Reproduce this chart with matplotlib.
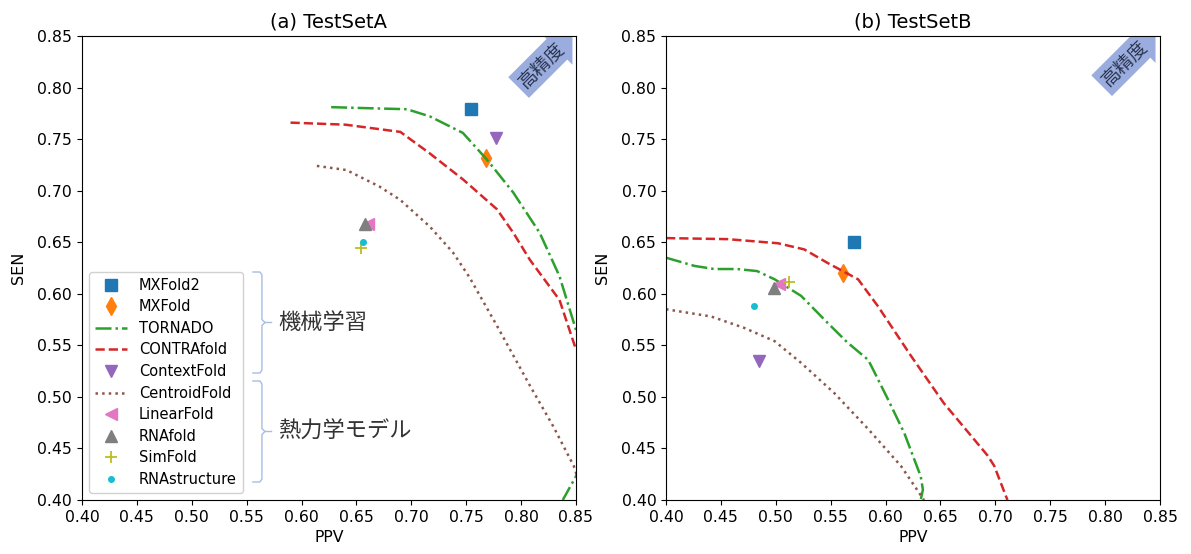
import matplotlib
matplotlib.use("Agg")
import matplotlib.pyplot as plt
from matplotlib.lines import Line2D

plt.rcParams['font.family'] = ['DejaVu Sans', 'Noto Sans CJK JP']

# ---------------- data ----------------
titles = ["(a) TestSetA", "(b) TestSetB"]

# point methods: (PPV, SEN) per test set
mxfold2_A = (0.754, 0.779);     mxfold2_B = (0.571, 0.650)
mxfold_A = (0.768, 0.732);      mxfold_B = (0.561, 0.620)
contextfold_A = (0.777, 0.751); contextfold_B = (0.485, 0.535)
linearfold_A = (0.661, 0.668);  linearfold_B = (0.503, 0.609)
rnafold_A = (0.658, 0.668);     rnafold_B = (0.498, 0.606)
simfold_A = (0.654, 0.644);     simfold_B = (0.512, 0.611)
rnastructure_A = (0.656, 0.650); rnastructure_B = (0.480, 0.588)

# curves
tornado_A_ppv = [0.627, 0.660, 0.696, 0.717, 0.747, 0.769, 0.793, 0.817, 0.835, 0.850, 0.865, 0.862, 0.850, 0.838]
tornado_A_sen = [0.781, 0.780, 0.779, 0.772, 0.756, 0.730, 0.698, 0.659, 0.617, 0.565, 0.500, 0.460, 0.423, 0.400]
contra_A_ppv = [0.590, 0.640, 0.690, 0.717, 0.747, 0.778, 0.793, 0.808, 0.817, 0.835, 0.850]
contra_A_sen = [0.766, 0.764, 0.757, 0.736, 0.711, 0.682, 0.659, 0.633, 0.620, 0.594, 0.546]
centroid_A_ppv = [0.614, 0.641, 0.671, 0.690, 0.717, 0.738, 0.753, 0.778, 0.808, 0.829, 0.848, 0.852]
centroid_A_sen = [0.724, 0.720, 0.704, 0.691, 0.665, 0.640, 0.616, 0.569, 0.511, 0.472, 0.433, 0.420]

tornado_B_ppv = [0.400, 0.426, 0.444, 0.465, 0.483, 0.499, 0.523, 0.547, 0.565, 0.584, 0.587, 0.602, 0.617, 0.632, 0.634, 0.632]
tornado_B_sen = [0.635, 0.627, 0.624, 0.624, 0.622, 0.614, 0.598, 0.572, 0.553, 0.536, 0.530, 0.498, 0.465, 0.423, 0.410, 0.400]
contra_B_ppv = [0.400, 0.456, 0.502, 0.526, 0.547, 0.575, 0.593, 0.623, 0.653, 0.693, 0.699, 0.711]
contra_B_sen = [0.654, 0.653, 0.649, 0.643, 0.630, 0.614, 0.588, 0.540, 0.494, 0.443, 0.433, 0.400]
centroid_B_ppv = [0.400, 0.441, 0.471, 0.499, 0.523, 0.553, 0.584, 0.614, 0.635]
centroid_B_sen = [0.585, 0.578, 0.567, 0.554, 0.533, 0.504, 0.469, 0.433, 0.400]

ticks = [0.40, 0.45, 0.50, 0.55, 0.60, 0.65, 0.70, 0.75, 0.80, 0.85]
group_labels = ["機械学習", "熱力学モデル"]
arrow_label = "高精度"

# ---------------- plot ----------------
fig = plt.figure(figsize=(11.91, 5.54), dpi=100)
axA = fig.add_axes([0.0688, 0.0975, 0.4148, 0.8375])
axB = fig.add_axes([0.5592, 0.0975, 0.4148, 0.8375])

sets = [
    (axA, mxfold2_A, mxfold_A, contextfold_A, linearfold_A, rnafold_A, simfold_A, rnastructure_A,
     (tornado_A_ppv, tornado_A_sen), (contra_A_ppv, contra_A_sen), (centroid_A_ppv, centroid_A_sen)),
    (axB, mxfold2_B, mxfold_B, contextfold_B, linearfold_B, rnafold_B, simfold_B, rnastructure_B,
     (tornado_B_ppv, tornado_B_sen), (contra_B_ppv, contra_B_sen), (centroid_B_ppv, centroid_B_sen)),
]

ms = 8
for i, (ax, m2, m1, cf, lf, rf, sf, rs, tor, con, cen) in enumerate(sets):
    ax.plot(*m2, linestyle='none', marker='s', color='tab:blue', ms=ms, label='MXFold2')
    ax.plot(*m1, linestyle='none', marker='d', color='tab:orange', ms=ms + 1, label='MXFold')
    ax.plot(*tor, linestyle='-.', color='tab:green', lw=1.8, label='TORNADO')
    ax.plot(*con, linestyle='--', color='tab:red', lw=1.8, label='CONTRAfold')
    ax.plot(*cf, linestyle='none', marker='v', color='tab:purple', ms=ms, label='ContextFold')
    ax.plot(*cen, linestyle=':', color='tab:brown', lw=1.8, label='CentroidFold')
    ax.plot(*lf, linestyle='none', marker='<', color='tab:pink', ms=ms, label='LinearFold')
    ax.plot(*rf, linestyle='none', marker='^', color='tab:gray', ms=ms, label='RNAfold')
    ax.plot(*sf, linestyle='none', marker='+', color='tab:olive', ms=ms, mew=1.3, label='SimFold')
    ax.plot(*rs, linestyle='none', marker='.', color='tab:cyan', ms=ms, label='RNAstructure')

    ax.set_xlim(0.40, 0.85)
    ax.set_ylim(0.40, 0.85)
    ax.set_xticks(ticks)
    ax.set_yticks(ticks)
    ax.set_xticklabels([f"{t:.2f}" for t in ticks])
    ax.set_yticklabels([f"{t:.2f}" for t in ticks])
    ax.tick_params(labelsize=11.3)
    ax.set_xlabel("PPV", fontsize=11.3)
    ax.set_ylabel("SEN", fontsize=11.5, labelpad=8)
    ax.set_title(titles[i], fontsize=14)

    # "high accuracy" arrow
    cx, cy = (0.930, 0.938) if i == 0 else (0.928, 0.942)
    ax.text(cx, cy, arrow_label, transform=ax.transAxes, rotation=45,
            ha='center', va='center', fontsize=13.5, color='#2b3550',
            family=['Noto Sans CJK JP'], rotation_mode='anchor',
            bbox=dict(boxstyle='rarrow,pad=0.22', fc='#8fa4db', ec='none', alpha=0.9),
            zorder=1, clip_on=True)

leg = axA.legend(loc='lower left', fontsize=10.5, handlelength=2.2, labelspacing=0.45,
                 borderaxespad=0.5, framealpha=0.9)

# brackets for groups
bc = '#a7bde2'
def px_to_ax(px, py):
    return ((px - 82) / 494.0, (500 - py) / 464.0)

def bracket(y_top, y_bot):
    x0, x1, x2 = 253, 262, 270
    ym = (y_top + y_bot) / 2
    pts = [(x0, y_top), (x1 - 2, y_top), (x1, y_top + 3), (x1, ym - 3), (x2 - 5, ym),
           (x1, ym + 3), (x1, y_bot - 3), (x1 - 2, y_bot), (x0, y_bot)]
    xs, ys = zip(*[px_to_ax(*p) for p in pts])
    axA.add_line(Line2D(xs, ys, transform=axA.transAxes, color=bc, lw=1.0, clip_on=False))
    mx, my = px_to_ax(x2 - 5, ym)
    axA.add_line(Line2D([mx, px_to_ax(x2 + 1, ym)[0]], [my, my], transform=axA.transAxes,
                        color=bc, lw=1.0, clip_on=False))
    return ym

ym1 = bracket(272, 373)
ym2 = bracket(381, 482)
for lab, ym in zip(group_labels, (ym1, ym2)):
    tx, ty = px_to_ax(278, ym)
    axA.text(tx, ty, lab, transform=axA.transAxes, fontsize=16, va='center', ha='left',
             family=['Noto Sans CJK JP'], color='#333333')

fig.savefig("out.png", dpi=100)
